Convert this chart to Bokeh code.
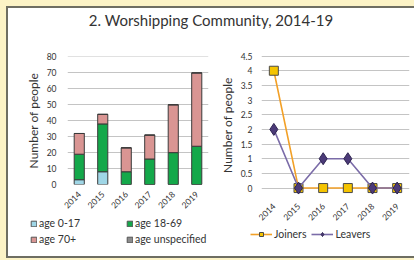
from bokeh.plotting import figure
from bokeh.models import Legend, LegendItem, Div, FactorRange, Range1d, FixedTicker
from bokeh.layouts import column, row
from bokeh.embed import file_html
from bokeh.resources import INLINE

years = ["2014", "2015", "2016", "2017", "2018", "2019"]
age_0_17 = [3, 8, 0, 0, 0, 0]
age_18_69 = [16, 30, 8, 16, 20, 24]
age_70_plus = [13, 6, 15, 15, 30, 46]
age_unspecified = [0, 0, 0, 0, 0, 0]
joiners = [4, 0, 0, 0, 0, 0]
leavers = [2, 0, 1, 1, 0, 0]
left_ticks = [0, 10, 20, 30, 40, 50, 60, 70, 80]
right_ticks = [0, 0.5, 1, 1.5, 2, 2.5, 3, 3.5, 4, 4.5]
right_tick_labels = ["0", "0.5", "1", "1.5", "2", "2.5", "3", "3.5", "4", "4.5"]
age_names = ["age 0-17", "age 18-69", "age 70+", "age unspecified"]
age_colors = ["#9fd6e6", "#14a84a", "#d99593", "#8c8c8c"]

FONT = "Lato"
TXT = "#333333"
GRID = "#c4c4c4"
J_LINE, J_FILL = "#f2a027", "#f5c400"
L_LINE, L_FILL = "#7b6ca8", "#4b3a78"


def style(p):
    p.outline_line_color = None
    p.background_fill_color = "white"
    p.border_fill_color = "white"
    p.xgrid.grid_line_color = None
    p.ygrid.grid_line_color = GRID
    for ax in (p.xaxis[0], p.yaxis[0]):
        ax.axis_line_color = None
        ax.major_tick_line_color = None
        ax.minor_tick_line_color = None
        ax.major_tick_out = 0
        ax.major_tick_in = 0
        ax.minor_tick_out = 0
        ax.major_label_text_font = FONT
        ax.major_label_text_font_size = "8.5px"
        ax.major_label_text_color = TXT
        ax.axis_label_text_font = FONT
        ax.axis_label_text_font_size = "12px"
        ax.axis_label_text_font_style = "normal"
        ax.axis_label_text_color = TXT
    p.xaxis.major_label_orientation = 0.785


def legend_fig(w, h, x_range):
    # swatch-only figure: its renderers use the chart data but sit outside the visible y-range
    f = figure(width=w, height=h, x_range=x_range, y_range=Range1d(1000, 1001),
               x_axis_type=None, y_axis_type=None, frame_align=False,
               output_backend="svg", toolbar_location=None, min_border=0,
               min_border_left=0, min_border_right=0, min_border_top=0, min_border_bottom=0)
    f.grid.grid_line_color = None
    f.outline_line_color = None
    f.border_fill_color = "white"
    f.background_fill_color = "white"
    return f


# ---------- left: stacked bars ----------
p1 = figure(x_range=FactorRange(*years), y_range=Range1d(0, 80.3),
            width=206, height=176, output_backend="svg", toolbar_location=None,
            frame_align=False,
            min_border_left=59, min_border_right=6, min_border_top=18, min_border_bottom=29)
style(p1)
p1.yaxis.ticker = FixedTicker(ticks=left_ticks)
p1.yaxis.axis_label = "Number of people"
p1.yaxis.major_label_standoff = 11
p1.yaxis.axis_label_standoff = 3
p1.xaxis.major_label_standoff = 8

src = dict(years=years, a=age_0_17, b=age_18_69, c=age_70_plus, d=age_unspecified)
p1.vbar_stack(["a", "b", "c", "d"], x="years", width=0.43, source=src,
              color=age_colors, line_color="#3a3a3a", line_width=1)

l1 = legend_fig(206, 42, FactorRange(*years))
sw = l1.vbar_stack(["a", "b", "c", "d"], x="years", width=0.43, source=src,
                   color=age_colors, line_color="#555555", line_width=1)
order = [0, 2, 1, 3]  # legend fills column by column
leg1 = Legend(items=[LegendItem(label=age_names[i], renderers=[sw[i]]) for i in order],
              ncols=2, location=(22, 11), label_width=83, glyph_width=7, glyph_height=7,
              label_standoff=2, spacing=4, padding=0, margin=0, background_fill_alpha=0,
              border_line_color=None, label_text_font=FONT, label_text_font_size="10.5px",
              label_text_color=TXT, label_height=12)
l1.add_layout(leg1, "center")

# ---------- right: lines ----------
p2 = figure(x_range=FactorRange(*years), y_range=Range1d(-0.22, 4.52),
            width=200, height=188, output_backend="svg", toolbar_location=None,
            frame_align=False,
            min_border_left=47, min_border_right=5, min_border_top=17, min_border_bottom=31)
style(p2)
p2.yaxis.ticker = FixedTicker(ticks=right_ticks)
p2.yaxis.major_label_overrides = {t: s for t, s in zip(right_ticks, right_tick_labels)}
p2.yaxis.axis_label = "Number of people"
p2.yaxis.major_label_standoff = 9
p2.yaxis.axis_label_standoff = 3
p2.xaxis.major_label_standoff = 10

p2.line(years, joiners, line_color=J_LINE, line_width=1.6)
p2.scatter(years, joiners, marker="square", size=9, fill_color=J_FILL,
           line_color="#4a4a4a", line_width=1)
p2.line(years, leavers, line_color=L_LINE, line_width=1.6)
p2.scatter(years, leavers, marker="diamond", size=12, fill_color=L_FILL,
           line_color="#2e2450", line_width=1)

l2 = legend_fig(200, 30, FactorRange(*years))
jl = l2.line(years, joiners, line_color=J_LINE, line_width=1.6)
js = l2.scatter(years, joiners, marker="square", size=8, fill_color=J_FILL, line_color="#4a4a4a")
ll = l2.line(years, leavers, line_color=L_LINE, line_width=1.6)
ls = l2.scatter(years, leavers, marker="diamond", size=9, fill_color=L_FILL, line_color="#2e2450")
leg2 = Legend(items=[LegendItem(label="Joiners", renderers=[jl, js]),
                     LegendItem(label="Leavers", renderers=[ll, ls])],
              orientation="horizontal", location=(36, 16), glyph_width=22, glyph_height=10,
              label_standoff=2, spacing=5, padding=0, margin=0, background_fill_alpha=0,
              border_line_color=None, label_text_font=FONT, label_text_font_size="10.5px",
              label_text_color=TXT, label_height=12)
l2.add_layout(leg2, "center")

title = Div(text="2. Worshipping Community, 2014-19", width=406, height=30, margin=0,
            styles={"text-align": "center", "font-family": FONT, "font-size": "15px",
                    "line-height": "24px", "color": TXT})

inner = column(title, row(column(p1, l1), column(p2, l2)),
               styles={"background-color": "white",
                       "border-left": "2px solid #6e6e62", "border-top": "2px solid #6e6e62",
                       "border-bottom": "2px solid #6e6e62"})
layout = column(inner, styles={"background-color": "#fcf3c6", "padding-left": "6px",
                               "padding-top": "6px", "padding-bottom": "2px"})

open("out.html", "w").write(file_html(layout, INLINE))
